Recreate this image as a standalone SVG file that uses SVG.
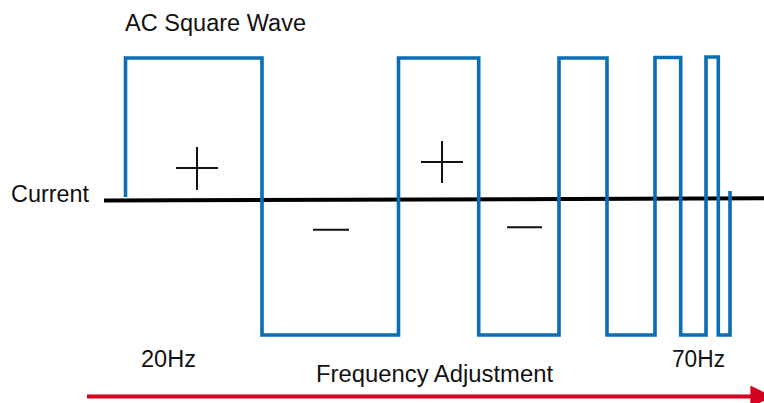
<svg xmlns="http://www.w3.org/2000/svg" width="764" height="403" viewBox="0 0 764 403">
  <style>
    .t { font-family: "Liberation Sans", Arial, sans-serif; font-size: 23px; fill: #111; }
    .wave { fill: none; stroke: #0a6db6; stroke-width: 3.6; stroke-linejoin: miter; }
    .sign { stroke: #111; stroke-width: 2; fill: none; }
  </style>
  <defs>
    <marker id="arrowHead" viewBox="0 0 10 10" refX="3" refY="5" markerWidth="5.5" markerHeight="5.5" orient="auto" markerUnits="strokeWidth">
      <path d="M0,0 L10,5 L0,10 Z" fill="#d2001e"/>
    </marker>
  </defs>
  <rect width="764" height="403" fill="#fff"/>
  <g id="axis">
    <line x1="104" y1="200.5" x2="764" y2="198.3" stroke="#000" stroke-width="4"/>
  </g>
  <g id="waveform">
    <path class="wave" d="M125.5,197 V58 H262 V335 H398.5 V58 H478.7 V335 H559 V58 H607 V335 H655 V57.5 H680.7 V335 H706 V57 H718.3 V335 H730 V191"/>
  </g>
  <g id="signs">
    <path class="sign" d="M176,168 H218 M197,147 V190"/>
    <path class="sign" d="M421,162 H463 M442,141 V183"/>
    <path class="sign" d="M313,229.7 H349"/>
    <path class="sign" d="M507,227.3 H542"/>
  </g>
  <g id="connectors">
    <line x1="87" y1="396.5" x2="757" y2="396.5" stroke="#d2001e" stroke-width="4" marker-end="url(#arrowHead)"/>
  </g>
  <g id="labels">
    <text class="t" x="125" y="31" textLength="181" lengthAdjust="spacingAndGlyphs">AC Square Wave</text>
    <text class="t" x="11" y="202" textLength="78" lengthAdjust="spacingAndGlyphs">Current</text>
    <text class="t" x="141" y="367" textLength="55" lengthAdjust="spacingAndGlyphs">20Hz</text>
    <text class="t" x="672" y="367" textLength="53" lengthAdjust="spacingAndGlyphs">70Hz</text>
    <text class="t" x="316" y="382" textLength="237" lengthAdjust="spacingAndGlyphs">Frequency Adjustment</text>
  </g>
</svg>
